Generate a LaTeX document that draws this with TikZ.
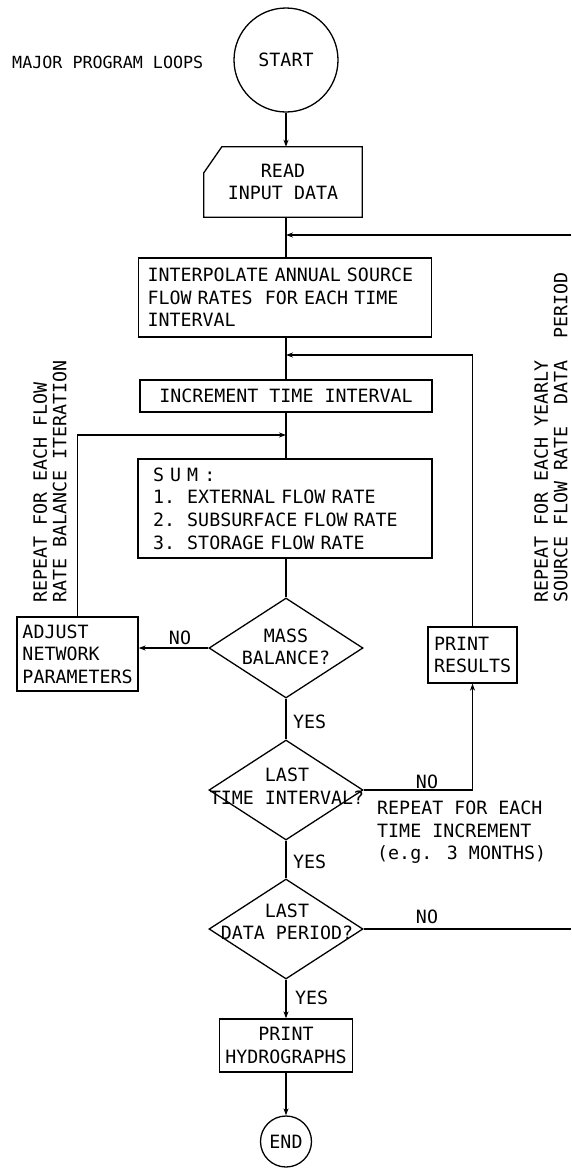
\documentclass[tikz,border=0pt]{standalone}
\usepackage{fontspec}
\newfontfamily\tw{DejaVu Sans Mono}
\usetikzlibrary{shapes.geometric,arrows.meta}
\begin{document}
\begin{tikzpicture}[x=1pt,y=1pt,
  every node/.style={font=\tw\fontsize{18.3}{22.5}\selectfont, inner sep=0pt, align=center, text=black},
  flow/.style={line width=1.3pt},
  arr/.style={flow, -{Stealth[length=7pt,width=5pt]}},
  box/.style={draw, line width=1.3pt, rectangle, align=left},
  dia/.style={draw, line width=1.3pt, diamond, minimum width=154pt, minimum height=100pt},
  term/.style={draw, line width=1.3pt, circle},
  vtext/.style={rotate=90, anchor=west, align=left, font=\tw\fontsize{18.3}{19.5}\selectfont}]

\fill[white] (0,0) rectangle (571,-1168);
\useasboundingbox (0,0) rectangle (571,-1168);

% title
\node[anchor=west] (title) at (12,-62) {\fontsize{16.7}{20}\selectfont MAJOR PROGRAM LOOPS};

% main column
\node[term, minimum size=104pt] (start) at (286,-60) {START};

\node[minimum width=158pt, minimum height=70pt] (read) at (283,-182) {READ\\INPUT DATA};
\draw[flow] ([xshift=18pt]read.north west) -- (read.north east) -- (read.south east)
  -- (read.south west) -- ([yshift=-26pt]read.north west) -- cycle;

\node[box, minimum width=293pt, minimum height=79pt, text width=275pt] (interp) at (285,-297.5)
  {INTERPOLATE ANNUAL SOURCE\\FLOW RATES~~FOR EACH TIME\\INTERVAL};

\node[box, align=center, minimum width=292pt, minimum height=32pt] (incr) at (286,-396)
  {INCREMENT TIME INTERVAL};

\node[box, minimum width=294pt, minimum height=99pt, text width=264pt,
  font=\tw\fontsize{18.3}{22.7}\selectfont] (sum) at (285,-508.5)
  {S U M :\\1.~~EXTERNAL FLOW RATE\\2.~~SUBSURFACE FLOW RATE\\3.~~STORAGE FLOW RATE};

\node[dia] (mb) at (286,-648) {};
\node (mbt) at (286,-647) {MASS\\BALANCE?};

\node[box, minimum width=121pt, minimum height=74pt, text width=110pt] (adj) at (77.5,-654)
  {ADJUST\\NETWORK\\PARAMETERS};

\node[box, minimum width=89pt, minimum height=56pt, text width=77pt] (pres) at (472.5,-655)
  {PRINT\\RESULTS};

\node[dia] (lti) at (286,-790) {};
\node (ltit) at (287,-786) {LAST\\TIME INTERVAL?};

\node[dia] (ldp) at (286,-929) {};
\node (ldpt) at (287,-922) {LAST\\DATA PERIOD?};

\node[box, align=center, minimum width=133pt, minimum height=53pt] (hyd) at (286,-1045.5)
  {PRINT\\HYDROGRAPHS};

\node[term, minimum size=51pt] (end) at (286,-1141.5) {END};

% loop junctions on the main column and free ends at the right margin
\coordinate (jtop) at (286,-235);
\coordinate (rtop) at (571,-235);
\coordinate (jmid) at (286,-355);
\coordinate (jlow) at (286,-435);
\coordinate (rbot) at (571,-929);

% connectors
\draw[arr] (start) -- (start |- read.north);
\draw[flow] (read.south -| start) -- (interp.north -| start);
\draw[arr] (rtop) -- (jtop);
\draw[flow] (interp.south -| start) -- (incr.north -| start);
\draw[arr] (pres.north) |- (jmid);
\draw[flow] (incr.south -| start) -- (sum.north -| start);
\draw[arr] (adj.north) |- (jlow);
\draw[flow] (sum.south -| start) -- (mb.north);
\draw[arr] (mb.west) -- (mb.west -| adj.east);
\draw[flow] (mb.south) -- (lti.north);
\draw[arr] (lti.east) -| (pres.south);
\draw[flow] (lti.south) -- (ldp.north);
\draw[flow] (ldp.east) -- (rbot);
\draw[arr] (ldp.south) -- (hyd.north);
\draw[arr] (hyd.south) -- (end.north);

% branch labels
\node (nomb) at (180,-638) {NO};
\node[anchor=west] (yes1) at (293,-722) {YES};
\node (nolti) at (427,-782) {NO};
\node[anchor=north west, align=left] (rep3) at (377,-801)
  {REPEAT FOR EACH\\TIME INCREMENT\\(e.g. 3 MONTHS)};
\node[anchor=west] (yes2) at (293,-862) {YES};
\node (noldp) at (427,-917) {NO};
\node[anchor=west] (yes3) at (295,-998) {YES};

% loop annotations
\node[vtext] (repl) at (50,-603) {REPEAT FOR EACH FLOW\\RATE BALANCE ITERATION};
\node[vtext] (repr) at (551,-603) {REPEAT FOR EACH YEARLY\\SOURCE FLOW RATE~~DATA~~PERIOD};

\end{tikzpicture}
\end{document}
